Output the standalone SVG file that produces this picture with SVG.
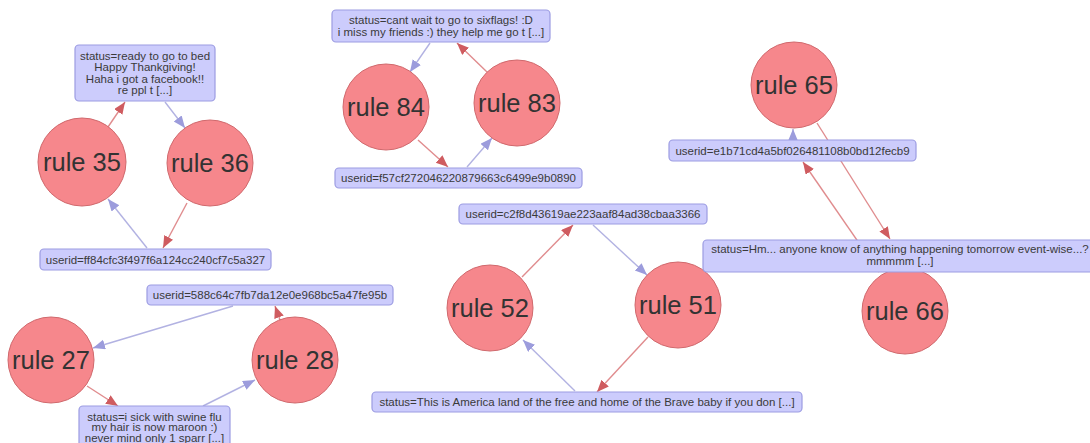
<svg xmlns="http://www.w3.org/2000/svg" width="1090" height="443" viewBox="0 0 1090 443">
  <style>
    .rule circle { fill: #f6878c; stroke: #d0686c; stroke-width: 1; }
    .rule text { font-family: "Liberation Sans", Arial, sans-serif; font-size: 25.5px; fill: #333; text-anchor: middle; }
    .info rect { fill: #ccccfc; stroke: #9c9ce2; stroke-width: 1.2; }
    .info text { font-family: "Liberation Sans", Arial, sans-serif; font-size: 11.5px; fill: #3a3a3a; text-anchor: middle; }
    .edge { fill: none; stroke-width: 1.4; }
    .red { stroke: #e08c8e; marker-end: url(#headRed); }
    .blue { stroke: #b2b2e2; marker-end: url(#headBlue); }
  </style>
  <defs>
    <marker id="headRed" markerUnits="userSpaceOnUse" markerWidth="13" markerHeight="11" refX="12" refY="5" orient="auto">
      <path d="M0,0 L12,5 L0,10 z" fill="#cf5c60"/>
    </marker>
    <marker id="headBlue" markerUnits="userSpaceOnUse" markerWidth="13" markerHeight="11" refX="12" refY="5" orient="auto">
      <path d="M0,0 L12,5 L0,10 z" fill="#9c9cdc"/>
    </marker>
  </defs>

  <rect width="1090" height="443" fill="#ffffff"/>

  <!-- connectors -->
  <g id="connectors">
    <line class="edge red" x1="108" y1="127" x2="125" y2="102"/>
    <line class="edge blue" x1="165" y1="102" x2="185" y2="128"/>
    <line class="edge red" x1="187" y1="203" x2="163" y2="248"/>
    <line class="edge blue" x1="147" y1="248" x2="108" y2="199"/>

    <line class="edge blue" x1="233" y1="306" x2="93" y2="348"/>
    <line class="edge red" x1="280" y1="320" x2="275" y2="306"/>
    <line class="edge red" x1="87" y1="386" x2="118" y2="406"/>
    <line class="edge blue" x1="203" y1="406" x2="255" y2="380"/>

    <line class="edge blue" x1="430" y1="43" x2="410" y2="72"/>
    <line class="edge red" x1="487" y1="72" x2="457" y2="43"/>
    <line class="edge red" x1="418" y1="140" x2="448" y2="167"/>
    <line class="edge blue" x1="467" y1="167" x2="492" y2="138"/>

    <line class="edge red" x1="522" y1="277" x2="573" y2="225"/>
    <line class="edge blue" x1="593" y1="225" x2="647" y2="275"/>
    <line class="edge red" x1="648" y1="337" x2="597" y2="392"/>
    <line class="edge blue" x1="575" y1="391" x2="523" y2="340"/>

    <line class="edge blue" x1="793" y1="140" x2="793" y2="129"/>
    <line class="edge red" x1="817" y1="123" x2="890" y2="239"/>
    <line class="edge red" x1="879" y1="272" x2="803" y2="162"/>
  </g>

  <!-- rule nodes -->
  <g id="rule35" class="rule"><circle cx="82" cy="162" r="44"/><text x="82" y="171">rule 35</text></g>
  <g id="rule36" class="rule"><circle cx="210" cy="163" r="43"/><text x="210" y="172">rule 36</text></g>
  <g id="rule27" class="rule"><circle cx="51" cy="360" r="43"/><text x="51" y="369">rule 27</text></g>
  <g id="rule28" class="rule"><circle cx="295" cy="360" r="43"/><text x="295" y="369">rule 28</text></g>
  <g id="rule84" class="rule"><circle cx="386" cy="107" r="43"/><text x="386" y="116">rule 84</text></g>
  <g id="rule83" class="rule"><circle cx="517" cy="103" r="43"/><text x="517" y="112">rule 83</text></g>
  <g id="rule52" class="rule"><circle cx="490" cy="308" r="43"/><text x="490" y="317">rule 52</text></g>
  <g id="rule51" class="rule"><circle cx="678" cy="305" r="43"/><text x="678" y="314">rule 51</text></g>
  <g id="rule65" class="rule"><circle cx="794" cy="85" r="43"/><text x="794" y="94">rule 65</text></g>
  <g id="rule66" class="rule"><circle cx="905" cy="311" r="43"/><text x="905" y="320">rule 66</text></g>

  <!-- status / userid nodes -->
  <g id="status_bed" class="info">
    <rect x="75" y="45" width="140" height="56" rx="4"/>
    <text x="145" y="59.5">status=ready to go to bed</text>
    <text x="145" y="71">Happy Thankgiving!</text>
    <text x="145" y="82.5">Haha i got a facebook!!</text>
    <text x="145" y="94">re ppl t [...]</text>
  </g>
  <g id="userid_ff84" class="info">
    <rect x="40" y="249" width="231" height="21" rx="4"/>
    <text x="155.5" y="263.5">userid=ff84cfc3f497f6a124cc240cf7c5a327</text>
  </g>
  <g id="userid_588c" class="info">
    <rect x="147" y="285" width="246" height="20" rx="4"/>
    <text x="270" y="299">userid=588c64c7fb7da12e0e968bc5a47fe95b</text>
  </g>
  <g id="status_flu" class="info">
    <rect x="79" y="406" width="151" height="46" rx="4"/>
    <text x="154.5" y="420.5">status=i sick with swine flu</text>
    <text x="154.5" y="431">my hair is now maroon :)</text>
    <text x="154.5" y="441.5">never mind only 1 sparr [...]</text>
  </g>
  <g id="status_sixflags" class="info">
    <rect x="332" y="10" width="218" height="32" rx="4"/>
    <text x="441" y="24">status=cant wait to go to sixflags! :D</text>
    <text x="441" y="36">i miss my friends :) they help me go t [...]</text>
  </g>
  <g id="userid_f57c" class="info">
    <rect x="335" y="168" width="247" height="20" rx="4"/>
    <text x="458.5" y="182">userid=f57cf272046220879663c6499e9b0890</text>
  </g>
  <g id="userid_c2f8" class="info">
    <rect x="459" y="204" width="248" height="20" rx="4"/>
    <text x="583" y="218">userid=c2f8d43619ae223aaf84ad38cbaa3366</text>
  </g>
  <g id="status_america" class="info">
    <rect x="372" y="392" width="430" height="20" rx="4"/>
    <text x="587" y="406">status=This is America land of the free and home of the Brave baby if you don [...]</text>
  </g>
  <g id="userid_e1b7" class="info">
    <rect x="669" y="140" width="247" height="21" rx="4"/>
    <text x="792.5" y="154.5">userid=e1b71cd4a5bf026481108b0bd12fecb9</text>
  </g>
  <g id="status_hm" class="info">
    <rect x="703" y="240" width="394" height="32" rx="4"/>
    <text x="900" y="253">status=Hm... anyone know of anything happening tomorrow event-wise...?</text>
    <text x="900" y="265">mmmmm [...]</text>
  </g>
</svg>
